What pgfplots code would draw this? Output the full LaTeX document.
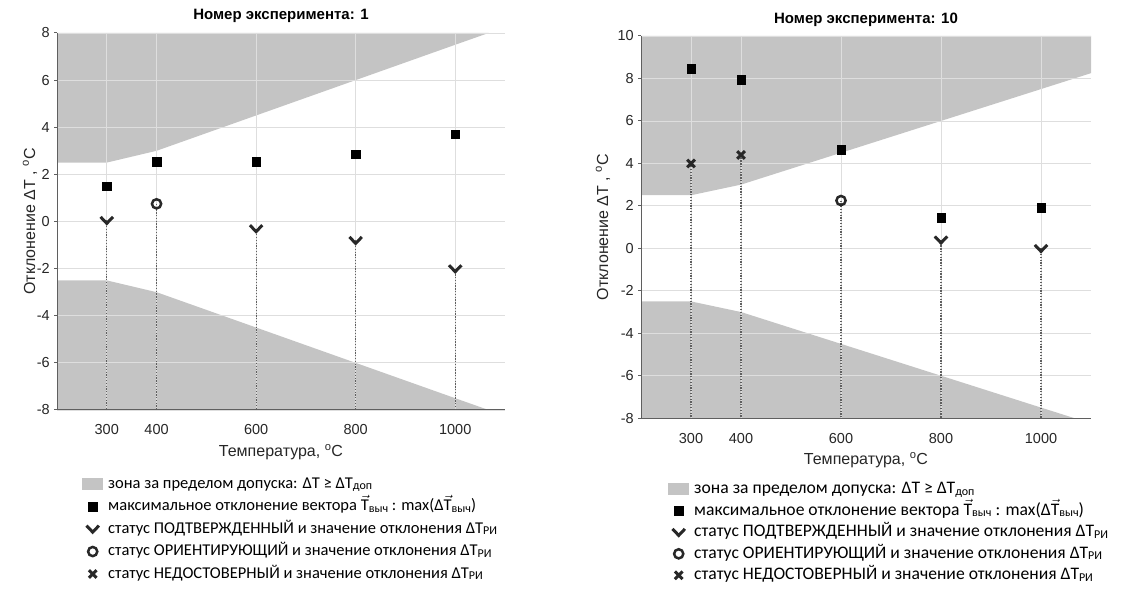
\documentclass[border=0pt]{standalone}
\usepackage{fontspec}
\setmainfont{Liberation Sans}
\newfontfamily\legfont{Carlito}
\usepackage{pgfplots}
\pgfplotsset{compat=1.18}

\definecolor{zone}{RGB}{196,196,196}
\definecolor{gridc}{RGB}{222,222,222}
\definecolor{axc}{RGB}{95,95,95}
\definecolor{mk}{RGB}{40,40,40}

% check mark "v"
\pgfdeclareplotmark{chk}{%
  \pgfpathmoveto{\pgfqpoint{-\pgfplotmarksize}{0.55\pgfplotmarksize}}%
  \pgfpathlineto{\pgfqpoint{0pt}{-0.5\pgfplotmarksize}}%
  \pgfpathlineto{\pgfqpoint{\pgfplotmarksize}{0.55\pgfplotmarksize}}%
  \pgfusepathqstroke}

\newcommand{\sub}[1]{\raisebox{-1.5pt}{\fontsize{12}{12}\selectfont #1}}
\newcommand{\vT}{\smash{\ensuremath{\vec{\mbox{T}}}}}

\pgfplotsset{
  myax/.style={scale only axis, set layers,
    xmin=200, xmax=1100, xtick={300,400,600,800,1000},
    grid=major, grid style={gridc, line width=0.8pt},
    axis x line*=bottom, axis y line*=left,
    axis line style={axc, line width=1pt, -},
    x tick style={draw=none}, y tick style={axc, line width=1pt},
    tick align=outside, major tick length=3pt,
    tick label style={font=\fontsize{14.5}{14.5}\selectfont, text=black!85},
    /pgf/number format/assume math mode=true,
    /pgf/number format/1000 sep={},
    xticklabel style={anchor=center, yshift=-17pt},
    yticklabel style={anchor=east, inner sep=0pt, xshift=-4pt},
    label style={font=\fontsize{16}{16}\selectfont, text=black!85},
    title style={font=\bfseries\fontsize{15}{15}\selectfont, anchor=base},
    legend cell align=left,
    legend style={draw=none, fill=none, inner sep=0pt, column sep=5pt,
      nodes={inner sep=0pt, text height=12.5pt, text depth=4pt, anchor=west}},
  },
  zonest/.style={fill=zone, draw=none, on layer=axis background,
    legend image code/.code={\fill[zone] (0pt,-6pt) rectangle (21pt,6pt);}},
  mkleg/.style={legend image code/.code={\draw[##1] plot coordinates {(10.5pt,0pt)};}},
  sqst/.style={only marks, mark=square*, mark size=4.3pt, black, mkleg},
  chkst/.style={only marks, mark=chk, mark size=6.2pt, mk, mark options={line width=3pt}, mkleg},
  cirst/.style={only marks, mark=o, mark size=4.6pt, mk, mark options={line width=2.5pt}, mkleg},
  xst/.style={only marks, mark=x, mark size=5.4pt, mk, mark options={line width=3pt}, mkleg},
  dotst/.style={forget plot, axc, line width=1.1pt, dash pattern=on 1.3pt off 1.5pt},
}

\begin{document}
\begin{tikzpicture}

% ---- experiment 1
\begin{axis}[myax, at={(57pt,202pt)}, anchor=south west, width=448pt, height=377pt,
  ymin=-8, ymax=8, ytick={-8,-6,...,8},
  title={Номер эксперимента: 1}, title style={at={(axis description cs:0.5,1)}, yshift=7.5pt},
  xlabel={Температура, \textsuperscript{o}C},
  xlabel style={at={(axis description cs:0.5,-0.111)}, anchor=center},
  ylabel={Отклонение ΔT , \textsuperscript{o}C},
  ylabel style={at={(axis description cs:-0.0603,0.5)}, anchor=center},
  legend style={at={(axis description cs:0.0558,-0.174)}, anchor=north west, row sep=6pt,
    font=\legfont\fontsize{16.5}{19}\selectfont}]
\addplot[zonest] coordinates {(200,8) (200,2.5) (300,2.5) (400,3) (600,4.5) (800,6) (1000,7.5) (1067,8)};
\addplot[zonest, forget plot] coordinates {(200,-8) (200,-2.5) (300,-2.5) (400,-3) (600,-4.5) (800,-6) (1000,-7.5) (1067,-8)};
\addplot[dotst] coordinates {(300,0.05) (300,-8)};
\addplot[dotst] coordinates {(400,0.75) (400,-8)};
\addplot[dotst] coordinates {(600,-0.3) (600,-8)};
\addplot[dotst] coordinates {(800,-0.8) (800,-8)};
\addplot[dotst] coordinates {(1000,-2) (1000,-8)};
\addplot[sqst] coordinates {(300,1.5) (400,2.55) (600,2.55) (800,2.85) (1000,3.7)};
\addplot[chkst] coordinates {(300,0.05) (600,-0.3) (800,-0.8) (1000,-2)};
\addplot[cirst] coordinates {(400,0.75)};
\addlegendimage{xst}
\legend{зона за пределом допуска: ΔT ≥ ΔT\sub{доп},
  максимальное отклонение вектора \vT\sub{выч} : max(Δ\vT\sub{выч}),
  статус ПОДТВЕРЖДЕННЫЙ и значение отклонения ΔT\sub{РИ},
  статус ОРИЕНТИРУЮЩИЙ и значение отклонения ΔT\sub{РИ},
  статус НЕДОСТОВЕРНЫЙ и значение отклонения ΔT\sub{РИ}}
\end{axis}

% ---- experiment 10
\begin{axis}[myax, at={(641pt,193.8pt)}, anchor=south west, width=450pt, height=382.2pt,
  ymin=-8, ymax=10, ytick={-8,-6,...,10},
  title={Номер эксперимента: 10}, title style={at={(axis description cs:0.5,1)}, yshift=6.5pt},
  xlabel={Температура, \textsuperscript{o}C},
  xlabel style={at={(axis description cs:0.5,-0.110)}, anchor=center},
  ylabel={Отклонение ΔT , \textsuperscript{o}C},
  ylabel style={at={(axis description cs:-0.0844,0.5)}, anchor=center},
  legend style={at={(axis description cs:0.06,-0.164)}, anchor=north west, row sep=5pt,
    font=\legfont\fontsize{17.6}{19}\selectfont}]
\addplot[zonest] coordinates {(200,10) (200,2.5) (300,2.5) (400,3) (600,4.5) (800,6) (1000,7.5) (1100,8.25) (1100,10)};
\addplot[zonest, forget plot] coordinates {(200,-8) (200,-2.5) (300,-2.5) (400,-3) (600,-4.5) (800,-6) (1000,-7.5) (1067,-8)};
\addplot[dotst] coordinates {(300,4) (300,-8)};
\addplot[dotst] coordinates {(400,4.4) (400,-8)};
\addplot[dotst] coordinates {(600,2.25) (600,-8)};
\addplot[dotst] coordinates {(800,0.4) (800,-8)};
\addplot[dotst] coordinates {(1000,0) (1000,-8)};
\addplot[sqst] coordinates {(300,8.45) (400,7.95) (600,4.65) (800,1.45) (1000,1.9)};
\addplot[chkst] coordinates {(800,0.4) (1000,0)};
\addplot[cirst] coordinates {(600,2.25)};
\addplot[xst] coordinates {(300,4) (400,4.4)};
\legend{зона за пределом допуска: ΔT ≥ ΔT\sub{доп},
  максимальное отклонение вектора \vT\sub{выч} : max(Δ\vT\sub{выч}),
  статус ПОДТВЕРЖДЕННЫЙ и значение отклонения ΔT\sub{РИ},
  статус ОРИЕНТИРУЮЩИЙ и значение отклонения ΔT\sub{РИ},
  статус НЕДОСТОВЕРНЫЙ и значение отклонения ΔT\sub{РИ}}
\end{axis}

\pgfresetboundingbox
\path[use as bounding box] (0,0) rectangle (1123pt,612pt);
\end{tikzpicture}
\end{document}
